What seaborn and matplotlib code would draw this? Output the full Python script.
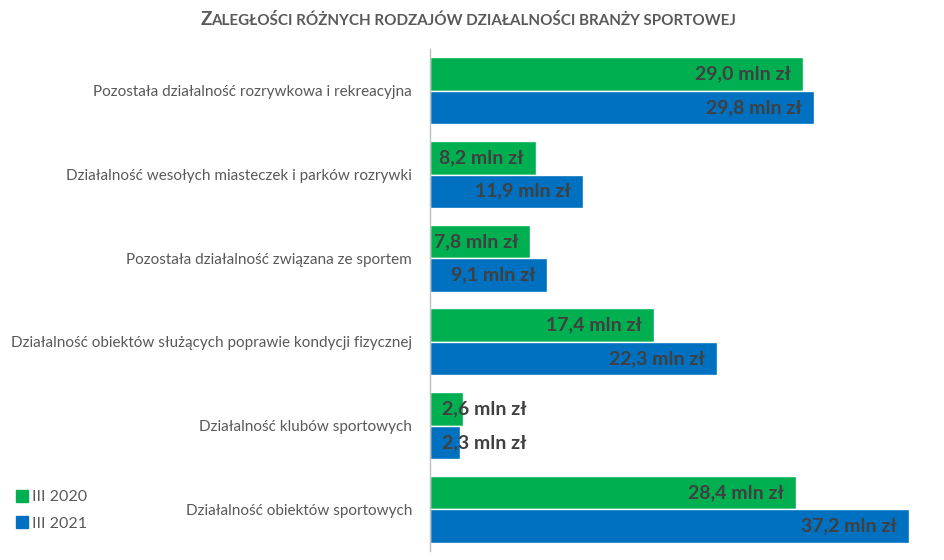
import matplotlib
matplotlib.use("Agg")
import matplotlib.pyplot as plt
import seaborn as sns
import pandas as pd
from matplotlib.lines import Line2D

categories = [
    "Pozostała działalność rozrywkowa i rekreacyjna",
    "Działalność wesołych miasteczek i parków rozrywki",
    "Pozostała działalność związana ze sportem",
    "Działalność obiektów służących poprawie kondycji fizycznej",
    "Działalność klubów sportowych",
    "Działalność obiektów sportowych",
]
series_names = ["III 2020", "III 2021"]
values_2020 = [29.0, 8.2, 7.8, 17.4, 2.6, 28.4]
values_2021 = [29.8, 11.9, 9.1, 22.3, 2.3, 37.2]
colors = ["#00B050", "#0070C0"]
title_first = "Z"
title_rest = "ALEGŁOŚCI RÓŻNYCH RODZAJÓW DZIAŁALNOŚCI BRANŻY SPORTOWEJ"

sns.set_theme(style="white")
plt.rcParams["font.family"] = ["Lato", "DejaVu Sans"]

df = pd.DataFrame({
    "cat": categories * 2,
    "series": [series_names[0]] * len(categories) + [series_names[1]] * len(categories),
    "val": values_2020 + values_2021,
})

fig = plt.figure(figsize=(9.44, 5.6), dpi=100)
ax = fig.add_axes([0.4555, 0.016, 0.525, 0.8965])
sns.barplot(data=df, y="cat", x="val", hue="series", palette=colors,
            orient="h", width=0.8, ax=ax, legend=False, saturation=1)

ax.set_xlim(0, 38.5)
ax.set_xlabel("")
ax.set_ylabel("")
ax.set_xticks([])
for s in ["top", "right", "bottom"]:
    ax.spines[s].set_visible(False)
ax.spines["left"].set_color("#BFBFBF")
ax.spines["left"].set_linewidth(1.0)
ax.tick_params(axis="y", length=0, pad=13, labelsize=11.0, labelcolor="#595959")

label_color = "#404040"
for container, vals in zip(ax.containers, [values_2020, values_2021]):
    for bar, v in zip(container, vals):
        y = bar.get_y() + bar.get_height() / 2
        txt = f"{v:.1f}".replace(".", ",") + " mln zł"
        if v < 5:
            ax.annotate(txt, xy=(0, y), xytext=(12, 0), textcoords="offset pixels",
                        ha="left", va="center", fontsize=14, fontweight="bold",
                        color=label_color)
        else:
            ax.annotate(txt, xy=(v, y), xytext=(-12, 0), textcoords="offset pixels",
                        ha="right", va="center", fontsize=14, fontweight="bold",
                        color=label_color)

# Title in small caps style
t1 = fig.text(0.212, 0.955, title_first, fontsize=13.5, fontweight="bold",
              color="#595959", ha="left", va="baseline")
ax.annotate(title_rest, xy=(1, 0), xycoords=t1, ha="left", va="bottom",
            fontsize=10.9, fontweight="bold", color="#595959",
            annotation_clip=False)

handles = [Line2D([0], [0], marker="s", linestyle="", markersize=8,
                  markerfacecolor=c, markeredgecolor=c) for c in colors]
fig.legend(handles, series_names, loc="lower left", bbox_to_anchor=(0.0, 0.027),
           frameon=False, fontsize=11.5, labelcolor="#595959",
           handletextpad=0.1, labelspacing=0.75, handlelength=1.0)

fig.savefig("out.png", dpi=100)
